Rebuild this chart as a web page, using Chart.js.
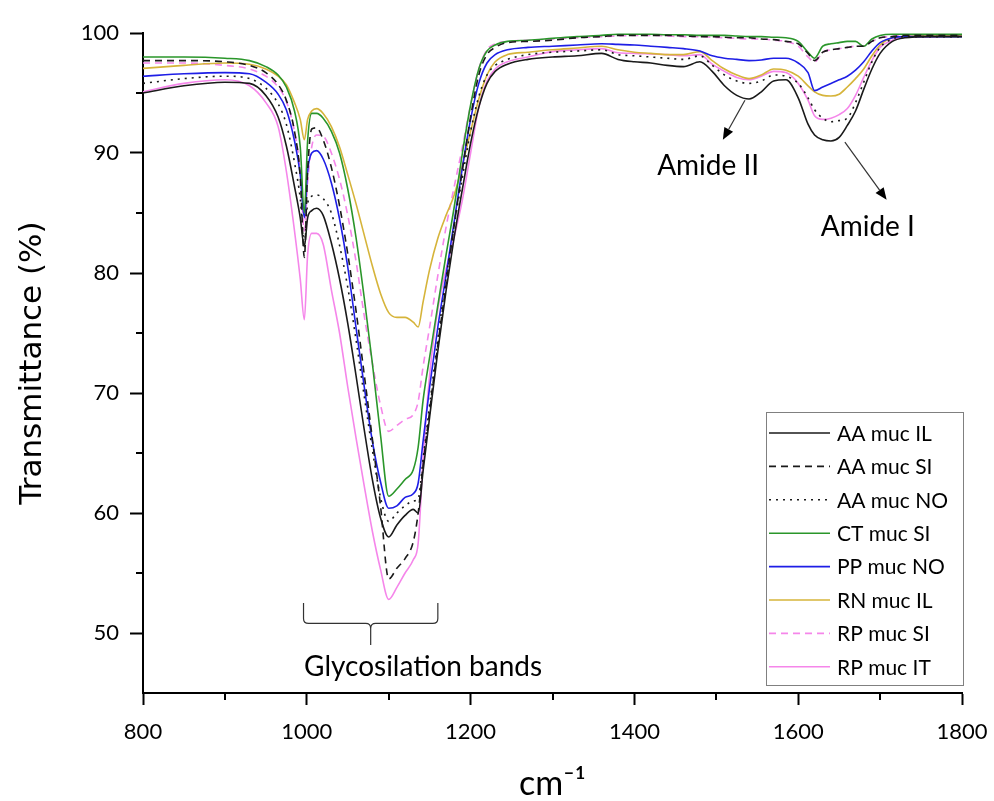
<!DOCTYPE html>
<html><head><meta charset="utf-8">
<script src="https://cdn.jsdelivr.net/npm/chart.js@4/dist/chart.umd.min.js"></script>
<style>html,body{margin:0;padding:0;background:#fff}#wrap{width:994px;height:801px}</style>
</head><body><div id="wrap"><canvas id="c" width="994" height="801"></canvas></div>
<script>
// ---- data (wavenumber in cm-1, transmittance in %) ----
const wavenumbers = [800, 850, 900, 930, 950, 965, 975, 985, 992, 997,
 1001, 1006, 1012, 1020, 1030, 1040, 1050, 1060, 1070, 1080,
 1090, 1100, 1110, 1120, 1130, 1136, 1142, 1150, 1160, 1170,
 1180, 1190, 1200, 1210, 1220, 1230, 1245, 1270, 1300, 1330,
 1360, 1380, 1400, 1420, 1440, 1460, 1480, 1495, 1510, 1525,
 1540, 1555, 1570, 1585, 1600, 1612, 1620, 1630, 1640, 1650,
 1660, 1670, 1680, 1690, 1700, 1715, 1730, 1760, 1800];

const aaMucIL = [95.0, 95.6, 95.9, 95.8, 94.8, 93.0, 90.6, 87.2, 84.6, 82.2,
 84.6, 85.2, 85.4, 84.8, 82.5, 79.5, 75.8, 71.5, 67.0, 62.8,
 59.6, 58.0, 59.0, 59.8, 60.3, 60.0, 63.5, 68.0, 73.5, 78.5,
 83.0, 87.0, 90.8, 93.8, 95.8, 96.8, 97.4, 97.8, 98.0, 98.1,
 98.3, 97.8, 97.6, 97.5, 97.3, 97.2, 97.6, 96.8, 95.6, 94.8,
 94.5, 95.1, 96.0, 96.1, 94.6, 92.4, 91.5, 91.1, 91.0, 91.3,
 92.3, 93.5, 95.3, 97.0, 98.3, 99.3, 99.6, 99.7, 99.7];

const aaMucSI = [97.7, 97.7, 97.6, 97.3, 96.7, 95.7, 94.4, 91.8, 88.0, 81.3,
 88.5, 92.0, 92.1, 91.1, 88.8, 85.6, 81.6, 76.9, 71.6, 66.2,
 60.6, 54.5, 55.4, 56.2, 57.6, 60.0, 64.0, 68.5, 74.0, 79.0,
 84.0, 88.6, 93.0, 96.5, 98.2, 98.8, 99.2, 99.3, 99.4, 99.6,
 99.7, 99.8, 99.8, 99.8, 99.8, 99.75, 99.7, 99.7, 99.65, 99.6,
 99.6, 99.5, 99.45, 99.3, 99.1, 98.3, 97.7, 98.4, 98.6, 98.7,
 98.8, 98.9, 98.9, 99.3, 99.6, 99.7, 99.8, 99.8, 99.8];

const aaMucNO = [95.8, 96.2, 96.4, 96.2, 95.4, 94.1, 92.4, 89.2, 86.2, 82.5,
 85.8, 86.4, 86.5, 86.2, 85.0, 82.3, 78.8, 74.5, 69.8, 65.3,
 61.3, 59.3, 60.0, 60.6, 61.0, 61.2, 64.5, 69.0, 74.5, 79.5,
 84.0, 88.0, 91.8, 94.7, 96.5, 97.3, 97.8, 98.2, 98.4, 98.5,
 98.6, 98.2, 98.1, 98.0, 97.9, 97.8, 98.1, 97.3, 96.5, 96.0,
 95.8, 96.0, 96.5, 96.4, 95.8, 94.6, 93.6, 92.9, 92.6, 92.7,
 92.9, 94.2, 95.9, 97.6, 98.8, 99.5, 99.7, 99.7, 99.7];

const ctMucSI = [98.0, 98.0, 97.9, 97.7, 97.2, 96.5, 95.5, 93.5, 90.5, 85.0,
 91.0, 93.3, 93.3, 92.9, 91.8, 90.0, 87.0, 83.0, 78.0, 72.5,
 66.5, 61.4, 62.0, 62.8, 63.6, 65.5, 69.4, 73.0, 77.3, 81.5,
 85.5, 90.0, 94.0, 97.0, 98.5, 99.0, 99.3, 99.4, 99.55, 99.7,
 99.8, 99.9, 99.9, 99.9, 99.85, 99.85, 99.8, 99.8, 99.8, 99.75,
 99.7, 99.7, 99.65, 99.6, 99.3, 98.4, 97.9, 98.9, 99.1, 99.2,
 99.3, 99.3, 98.9, 99.5, 99.8, 99.9, 99.9, 99.9, 99.9];

const ppMucNO = [96.4, 96.6, 96.7, 96.6, 95.9, 94.9, 93.6, 91.0, 88.2, 84.6,
 88.5, 90.0, 90.2, 89.5, 87.5, 84.5, 80.5, 75.5, 70.6, 66.0,
 62.6, 60.4, 60.6, 61.3, 61.6, 62.5, 66.0, 70.5, 75.5, 79.8,
 84.3, 88.8, 92.8, 95.8, 97.5, 98.2, 98.6, 98.8, 98.9, 99.0,
 99.1, 99.05, 99.0, 98.9, 98.8, 98.7, 98.5, 98.1, 97.9, 97.8,
 97.7, 97.75, 97.9, 97.9, 97.5, 96.7, 95.2, 95.5, 95.8, 96.1,
 96.4, 96.9, 97.6, 98.5, 99.2, 99.6, 99.7, 99.7, 99.7];

const rnMucIL = [97.05, 97.3, 97.5, 97.4, 97.0, 96.4, 95.7, 94.2, 92.8, 91.1,
 92.8, 93.5, 93.7, 93.3, 92.2, 90.5, 88.2, 85.8, 83.2, 80.6,
 78.3, 76.7, 76.3, 76.3, 75.9, 75.5, 77.6, 80.3, 82.9, 84.8,
 86.5, 89.0, 91.8, 94.5, 96.5, 97.6, 98.2, 98.4, 98.6, 98.75,
 98.9, 98.6, 98.4, 98.3, 98.2, 98.2, 98.45, 97.7, 97.0, 96.5,
 96.2, 96.5, 97.0, 96.9, 96.4, 95.6, 95.1, 94.8, 94.75, 94.9,
 95.5, 96.2, 97.0, 98.1, 99.0, 99.6, 99.7, 99.8, 99.8];

const rpMucSI = [97.5, 97.5, 97.3, 97.0, 96.4, 95.5, 94.3, 91.8, 88.5, 83.5,
 87.5, 90.5, 91.5, 91.4, 90.0, 87.8, 84.8, 81.0, 76.5, 72.5,
 69.0, 66.8, 67.3, 67.8, 68.2, 69.3, 72.2, 75.5, 79.8, 83.8,
 87.2, 90.5, 94.0, 97.0, 98.6, 99.1, 99.3, 99.4, 99.5, 99.6,
 99.7, 99.75, 99.8, 99.8, 99.75, 99.7, 99.7, 99.65, 99.6, 99.55,
 99.5, 99.5, 99.4, 99.3, 98.9, 98.0, 97.6, 98.4, 98.6, 98.7,
 98.8, 98.9, 98.9, 99.3, 99.6, 99.7, 99.8, 99.8, 99.8];

const rpMucIT = [95.1, 95.8, 96.1, 95.6, 94.2, 92.2, 88.5, 83.5, 79.5, 76.1,
 81.5, 83.3, 83.3, 82.4, 78.6, 75.0, 70.5, 66.3, 62.3, 58.5,
 55.3, 52.8, 53.8, 55.0, 56.1, 57.5, 64.5, 71.5, 77.0, 80.3,
 83.0, 86.1, 90.0, 93.8, 96.0, 97.0, 97.6, 98.0, 98.45, 98.6,
 98.7, 98.35, 98.3, 98.25, 98.2, 98.1, 98.2, 97.4, 96.8, 96.3,
 96.1, 96.4, 96.8, 96.7, 95.8, 94.4, 93.1, 92.8, 92.9, 93.2,
 93.7, 94.8, 96.3, 97.7, 98.8, 99.4, 99.7, 99.7, 99.8];

const seriesNames = ['AA muc IL', 'AA muc SI', 'AA muc NO', 'CT muc SI', 'PP muc NO', 'RN muc IL', 'RP muc SI', 'RP muc IT'];
const seriesValues = [aaMucIL, aaMucSI, aaMucNO, ctMucSI, ppMucNO, rnMucIL, rpMucSI, rpMucIT];

const xTickValues = [800, 1000, 1200, 1400, 1600, 1800];
const xMinorTicks = [900, 1100, 1300, 1500, 1700];
const yTickValues = [50, 60, 70, 80, 90, 100];
const yMinorTicks = [55, 65, 75, 85, 95];

// ---- styles ----
const seriesStyles = [
  {color: '#1a1a1a', dash: []},
  {color: '#1a1a1a', dash: [7, 5]},
  {color: '#1a1a1a', dash: [2, 5]},
  {color: '#2a962a', dash: []},
  {color: '#1e1ee6', dash: []},
  {color: '#d6b43a', dash: []},
  {color: '#f586ea', dash: [7, 5]},
  {color: '#f586ea', dash: []}
];

const datasets = seriesNames.map((name, i) => ({
  label: name,
  data: wavenumbers.map((w, j) => ({x: w, y: seriesValues[i][j]})),
  borderColor: seriesStyles[i].color,
  borderDash: seriesStyles[i].dash,
  borderWidth: 1.6,
  pointRadius: 0,
  fill: false,
  cubicInterpolationMode: 'monotone'
}));

const minorTickPlugin = {
  id: 'minorTicks',
  afterDraw(chart) {
    const {ctx, scales: {x, y}} = chart;
    ctx.save();
    ctx.strokeStyle = '#000';
    ctx.lineWidth = 2;
    xMinorTicks.forEach(v => {
      const px = Math.round(x.getPixelForValue(v));
      ctx.beginPath(); ctx.moveTo(px, x.top); ctx.lineTo(px, x.top + 7); ctx.stroke();
    });
    yMinorTicks.forEach(v => {
      const py = Math.round(y.getPixelForValue(v));
      ctx.beginPath(); ctx.moveTo(y.right, py); ctx.lineTo(y.right - 7, py); ctx.stroke();
    });
    ctx.restore();
  }
};

function arrow(ctx, x1, y1, x2, y2) {
  const ang = Math.atan2(y2 - y1, x2 - x1);
  const L = 12, W = 5;
  ctx.beginPath(); ctx.moveTo(x1, y1);
  ctx.lineTo(x2 - L * Math.cos(ang), y2 - L * Math.sin(ang)); ctx.stroke();
  ctx.beginPath();
  ctx.moveTo(x2, y2);
  ctx.lineTo(x2 - L * Math.cos(ang) + W * Math.sin(ang), y2 - L * Math.sin(ang) - W * Math.cos(ang));
  ctx.lineTo(x2 - L * Math.cos(ang) - W * Math.sin(ang), y2 - L * Math.sin(ang) + W * Math.cos(ang));
  ctx.closePath(); ctx.fill();
}

const notesPlugin = {
  id: 'notes',
  afterDatasetsDraw(chart) {
    const {ctx, scales: {x, y}} = chart;
    const X = v => x.getPixelForValue(v), Y = v => y.getPixelForValue(v);
    ctx.save();
    ctx.fillStyle = '#000';
    ctx.strokeStyle = '#333';
    ctx.lineWidth = 1.2;
    // arrows
    arrow(ctx, X(1535), Y(94.4), X(1508), Y(91.1));
    arrow(ctx, X(1657), Y(90.9), X(1708), Y(86.1));
    // brace
    const l = X(996), r = X(1160), c = X(1078);
    const t = Y(52.5), b = Y(50.8), tip = Y(49.0), rr = 5;
    ctx.beginPath();
    ctx.moveTo(l, t); ctx.lineTo(l, b - rr); ctx.quadraticCurveTo(l, b, l + rr, b);
    ctx.lineTo(c - rr, b); ctx.quadraticCurveTo(c, b, c, b + rr); ctx.lineTo(c, tip);
    ctx.moveTo(c, b + rr); ctx.quadraticCurveTo(c, b, c + rr, b);
    ctx.lineTo(r - rr, b); ctx.quadraticCurveTo(r, b, r, b - rr); ctx.lineTo(r, t);
    ctx.stroke();
    // labels
    ctx.font = '28px Lato';
    ctx.textAlign = 'center';
    ctx.textBaseline = 'middle';
    ctx.fillText('Amide II', X(1490), Y(88.9));
    ctx.fillText('Amide I', X(1685), Y(83.8));
    ctx.fillText('Glycosilation bands', X(1142), Y(47.2));
    ctx.restore();
  }
};

const legendPlugin = {
  id: 'boxLegend',
  afterDraw(chart) {
    const {ctx, chartArea: a} = chart;
    const x0 = a.right - 196, y0 = a.bottom - 281, w = 197, h = 273;
    ctx.save();
    ctx.fillStyle = '#fff';
    ctx.fillRect(x0, y0, w, h);
    ctx.strokeStyle = '#808080';
    ctx.lineWidth = 1;
    ctx.strokeRect(x0 + 0.5, y0 + 0.5, w, h);
    chart.data.datasets.forEach((ds, i) => {
      const cy = y0 + 21 + i * 33.4;
      ctx.beginPath();
      ctx.setLineDash(ds.borderDash || []);
      ctx.strokeStyle = ds.borderColor;
      ctx.lineWidth = ds.borderWidth;
      ctx.moveTo(x0 + 3, cy); ctx.lineTo(x0 + 64, cy); ctx.stroke();
      ctx.setLineDash([]);
      ctx.fillStyle = '#000';
      ctx.font = '21px Lato';
      ctx.textAlign = 'left';
      ctx.textBaseline = 'middle';
      ctx.fillText(ds.label, x0 + 71, cy + 1);
    });
    ctx.restore();
  }
};

new Chart(document.getElementById('c'), {
  type: 'line',
  data: {datasets},
  plugins: [minorTickPlugin, notesPlugin, legendPlugin],
  options: {
    responsive: false,
    animation: false,
    devicePixelRatio: 1,
    layout: {padding: {top: 33, right: 32, bottom: 0, left: 0}},
    plugins: {legend: {display: false}, tooltip: {enabled: false}},
    scales: {
      x: {
        type: 'linear', min: 800, max: 1800,
        afterBuildTicks: s => { s.ticks = xTickValues.map(v => ({value: v})); },
        afterFit: s => { s.height = 108; s.paddingLeft = 0; s.paddingRight = 0; },
        grid: {drawOnChartArea: false, drawTicks: true, tickLength: 12, tickWidth: 2, tickColor: '#000'},
        border: {display: true, color: '#000', width: 2},
        ticks: {color: '#000', font: {family: 'Lato', size: 22}, padding: 14, maxRotation: 0, callback: v => String(v)},
        title: {display: true, text: 'cm\u207B\u00B9', color: '#000', font: {family: 'Lato', size: 34, lineHeight: 1}, padding: {top: 0, bottom: 0}}
      },
      y: {
        type: 'linear', min: 45, max: 100,
        afterBuildTicks: s => { s.ticks = yTickValues.map(v => ({value: v})); },
        afterFit: s => { s.width = 143; },
        grid: {drawOnChartArea: false, drawTicks: true, tickLength: 13, tickWidth: 2, tickColor: '#000'},
        border: {display: true, color: '#000', width: 2},
        ticks: {color: '#000', font: {family: 'Lato', size: 22}, padding: 11, callback: v => String(v)},
        title: {display: true, text: 'Transmittance (%)', color: '#000', font: {family: 'DejaVu Sans', size: 31}, padding: {top: 14, bottom: 0}}
      }
    }
  }
});
</script>
</body></html>
